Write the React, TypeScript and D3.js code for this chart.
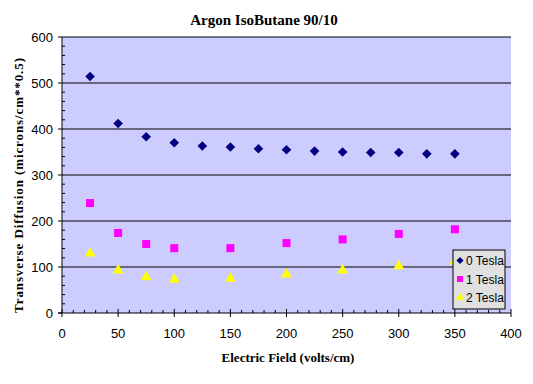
import React from "react";
import * as d3 from "d3";

const fields0 = [25, 50, 75, 100, 125, 150, 175, 200, 225, 250, 275, 300, 325, 350];
const tesla0 = [514, 412, 383, 370, 363, 361, 357, 355, 352, 350, 349, 349, 346, 346];
const fields12 = [25, 50, 75, 100, 150, 200, 250, 300, 350];
const tesla1 = [239, 174, 150, 141, 141, 152, 160, 172, 182];
const tesla2 = [132, 95, 80, 75, 77, 86, 95, 104, 115];
const xTicks = [0, 50, 100, 150, 200, 250, 300, 350, 400];
const yTicks = [0, 100, 200, 300, 400, 500, 600];
const legendLabels = ["0 Tesla", "1 Tesla", "2 Tesla"];

const W = 533;
const H = 384;
const margin = { top: 37, right: 22, bottom: 71, left: 62 };

export default function App() {
  const x = d3.scaleLinear().domain([0, 400]).range([margin.left, W - margin.right]);
  const y = d3.scaleLinear().domain([0, 600]).range([H - margin.bottom, margin.top]);

  // diamond = square turned 45 degrees, like the excel marker
  const diamond = "M0,-4.8L4.8,0L0,4.8L-4.8,0Z";
  const square = d3.symbol().type(d3.symbolSquare).size(64)();
  const triangle = d3.symbol().type(d3.symbolTriangle).size(52)();

  const minorX = d3.range(0, 401, 10).filter((v) => v % 50 !== 0);
  const minorY = d3.range(0, 601, 20).filter((v) => v % 100 !== 0);

  const numFont = "Liberation Sans, Arial, sans-serif";
  const serif = "Liberation Serif, Times New Roman, serif";

  const lx = 453;
  const ly = 250;

  return (
    <svg width={W} height={H} style={{ position: "absolute", left: 0, top: 0, background: "#fff" }}>
      <text x={264} y={25} textAnchor="middle" fontFamily={serif} fontWeight="bold" fontSize={15}>
        Argon IsoButane 90/10
      </text>
      <rect
        x={x(0)}
        y={y(600)}
        width={x(400) - x(0)}
        height={y(0) - y(600)}
        fill="#ccccff"
      />
      {yTicks.slice(1).map((t) => (
        <line key={"g" + t} x1={x(0)} x2={x(400)} y1={y(t)} y2={y(t)} stroke="#000" strokeWidth={1} />
      ))}
      {/* axes */}
      <line x1={x(0)} x2={x(0)} y1={y(0)} y2={y(600)} stroke="#000" />
      <line x1={x(0) - 4} x2={x(400)} y1={y(0)} y2={y(0)} stroke="#000" />
      {yTicks.map((t) => (
        <g key={"yt" + t}>
          <line x1={x(0) - 4} x2={x(0)} y1={y(t)} y2={y(t)} stroke="#000" />
          <text x={x(0) - 9} y={y(t) + 4.5} textAnchor="end" fontFamily={numFont} fontSize={13}>
            {t}
          </text>
        </g>
      ))}
      {minorY.map((t) => (
        <line key={"my" + t} x1={x(0)} x2={x(0) + 3} y1={y(t)} y2={y(t)} stroke="#000" />
      ))}
      {xTicks.map((t) => (
        <g key={"xt" + t}>
          <line x1={x(t)} x2={x(t)} y1={y(0) - 4} y2={y(0) + 4} stroke="#000" />
          <text x={x(t)} y={y(0) + 25} textAnchor="middle" fontFamily={numFont} fontSize={13}>
            {t}
          </text>
        </g>
      ))}
      {minorX.map((t) => (
        <line key={"mx" + t} x1={x(t)} x2={x(t)} y1={y(0) - 3} y2={y(0)} stroke="#000" />
      ))}
      {/* series */}
      {fields0.map((f, i) => (
        <path key={"d" + i} d={diamond} transform={`translate(${x(f)},${y(tesla0[i])})`} fill="#000080" />
      ))}
      {fields12.map((f, i) => (
        <path key={"s" + i} d={square} transform={`translate(${x(f)},${y(tesla1[i])})`} fill="#ff00ff" />
      ))}
      {fields12.map((f, i) => (
        <path key={"t" + i} d={triangle} transform={`translate(${x(f)},${y(tesla2[i]) + 1})`} fill="#ffff00" />
      ))}
      {/* legend */}
      <rect x={lx} y={ly} width={52} height={59} fill="#e0e0e0" stroke="#000" strokeWidth={1} />
      {legendLabels.map((lab, i) => {
        const cy = ly + 10.5 + i * 18.5;
        const sym = i === 0 ? diamond : i === 1 ? square : triangle;
        const col = i === 0 ? "#000080" : i === 1 ? "#ff00ff" : "#ffff00";
        return (
          <g key={lab}>
            <path d={sym} transform={`translate(${lx + 7},${cy}) scale(0.75)`} fill={col} />
            <text x={lx + 13} y={cy + 4.5} fontFamily={numFont} fontSize={12}>
              {lab}
            </text>
          </g>
        );
      })}
      <text x={288} y={362} textAnchor="middle" fontFamily={serif} fontWeight="bold" fontSize={13}>
        Electric Field (volts/cm)
      </text>
      <text
        transform={`translate(23,185) rotate(-90)`}
        textAnchor="middle"
        fontFamily={serif}
        fontWeight="bold"
        fontSize={13}
        letterSpacing={0.9}
      >
        Transverse Diffusion (microns/cm**0.5)
      </text>
    </svg>
  );
}
